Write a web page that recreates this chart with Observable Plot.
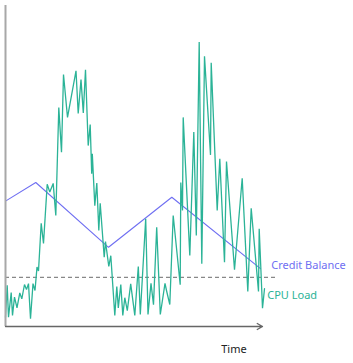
<!DOCTYPE html>
<html>
<head>
<meta charset="utf-8">
<script src="https://cdn.jsdelivr.net/npm/d3@7"></script>
<script src="https://cdn.jsdelivr.net/npm/@observablehq/plot@0.6"></script>
<style>
  html, body { margin: 0; padding: 0; background: #fff; }
</style>
</head>
<body>
<div id="chart"></div>
<script>
// CPU load over time (time units, load units)
const cpuTime = [0, 1.7, 3, 5.7, 7, 9, 11.5, 14.3, 16.3, 19, 21, 23, 25, 27.5, 29.5, 31.5, 33, 35.7, 38, 41.7,
  44.3, 47.7, 50.3, 53.3, 56, 58, 62, 70.5, 72.7, 75.5, 77.8, 80, 82.7, 84.7, 86.2, 86.8, 89.3, 91.3, 93.3, 94.7,
  98.7, 100, 103.3, 105.3, 109.3, 111.3, 112.8, 115.3, 117.3, 119.3, 121.8, 125.2, 129.3, 132.8, 134.8, 140.2, 142.5, 145.5, 148, 151.2,
  154.8, 159.5, 161, 164.3, 167.7, 174.7, 175.3, 177, 177.7, 184.3, 188.3, 190.8, 193.7, 196.3, 199, 205, 205.7, 211.7, 214.3, 219,
  221, 229, 236.7, 242.3, 245.7, 253, 253.7, 257, 259];
const cpuLoad = [3.1, 13.7, 3.1, 11.3, 3.7, 9.8, 6.2, 11.2, 9.2, 14, 12.3, 14.3, 2.6, 14.3, 12, 19.8, 18.5, 34.4, 27.7, 47.4,
  44.8, 47.7, 37, 73, 58.1, 84, 69.7, 85.2, 71, 82.3, 71.2, 85.6, 60.3, 67.3, 50.9, 57.6, 40.3, 47.8, 32, 41.1,
  23.1, 28.3, 20, 23.6, 3.7, 13.3, 6.2, 14, 3.7, 9.6, 5.3, 14.2, 3.7, 20, 4, 35.9, 4, 14.4, 7.3, 33.1,
  4, 14.4, 12, 7.3, 37, 13.9, 48, 38.7, 69.7, 23.7, 64.8, 30.3, 94.8, 20.9, 90.1, 57.2, 87.9, 38.7, 55.9, 21.4,
  55, 18.9, 49.4, 11.7, 39.4, 11.7, 32.6, 6.1, 12.6];

// Credit balance
const creditTime = [0, 30.3, 103, 166.3, 255];
const creditValue = [41.8, 48, 26.4, 43.1, 19.3];

// Threshold (dashed)
const threshold = 16.4;
const thresholdEnd = 271.7;

// Labels
const labelCredit = "Credit Balance";
const labelCpu = "CPU Load";
const labelTime = "Time";

const cpu = cpuTime.map((t, i) => ({t, v: cpuLoad[i]}));
const credit = creditTime.map((t, i) => ({t, v: creditValue[i]}));

const chart = Plot.plot({
  width: 353,
  height: 363,
  marginLeft: 5,
  marginRight: 91,
  marginTop: 5,
  marginBottom: 37,
  x: {domain: [0, 257], axis: null},
  y: {domain: [0, 107], axis: null},
  style: {fontFamily: "'Noto Sans', sans-serif", background: "white", overflow: "visible"},
  marks: [
    Plot.ruleY([threshold], {x1: 0, x2: thresholdEnd, stroke: "#888", strokeWidth: 1.2, strokeDasharray: "4,3"}),
    Plot.line(credit, {x: "t", y: "v", stroke: "#6f6ff2", strokeWidth: 1.1}),
    Plot.line(cpu, {x: "t", y: "v", stroke: "#2bb397", strokeWidth: 1.3, strokeLinejoin: "miter"}),
    Plot.ruleX([0], {y1: 0, y2: 107, stroke: "#a8a8a8", strokeWidth: 2}),
    Plot.arrow([{x1: 0, y1: 0, x2: 257, y2: 0}], {x1: "x1", y1: "y1", x2: "x2", y2: "y2", stroke: "#666", strokeWidth: 1.3, headLength: 7, bend: 0}),
    Plot.text([labelCredit], {x: 265.7, y: 20.3, text: d => d, textAnchor: "start", fill: "#6f6ff2", fontSize: 11}),
    Plot.text([labelCpu], {x: 261.7, y: 10.4, text: d => d, textAnchor: "start", fill: "#2bb397", fontSize: 11}),
    Plot.text([labelTime], {x: 215.7, y: -7.8, text: d => d, textAnchor: "start", fill: "#222", fontSize: 11})
  ]
});
document.getElementById("chart").appendChild(chart);
</script>
</body>
</html>
